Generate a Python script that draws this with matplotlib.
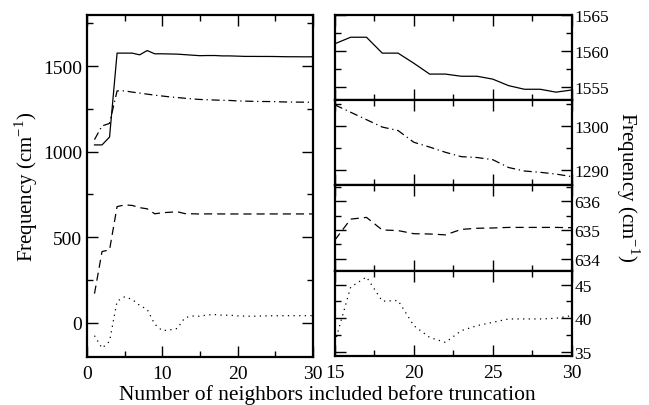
import numpy as np
import matplotlib
matplotlib.use("Agg")
import matplotlib.pyplot as plt
from matplotlib.ticker import MultipleLocator

plt.rcParams['font.family'] = ['Liberation Serif', 'DejaVu Serif']
plt.rcParams['mathtext.fontset'] = 'custom'
plt.rcParams['mathtext.rm'] = 'Liberation Serif'

# number of neighbors
n = np.arange(1, 31)

# four modes (cm^-1)
mode_1560 = [1039, 1039, 1085, 1576, 1576, 1576, 1566, 1591, 1572, 1572,
             1571, 1570, 1567, 1564, 1561.0, 1561.9, 1561.9, 1559.7, 1559.7, 1558.3,
             1556.8, 1556.8, 1556.5, 1556.5, 1556.1, 1555.2, 1554.7, 1554.7, 1554.3, 1554.6]
mode_1300 = [1070, 1150, 1165, 1355, 1355, 1348, 1342, 1336, 1330, 1325,
             1320, 1316, 1312, 1308, 1304.9, 1303.2, 1301.5, 1299.8, 1299.0, 1296.3,
             1295.2, 1294.0, 1293.0, 1292.8, 1292.3, 1290.5, 1289.7, 1289.4, 1289.0, 1288.4]
mode_635 = [169, 415, 425, 678, 688, 685, 672, 665, 636, 642,
            645, 648, 637, 636, 634.65, 635.38, 635.44, 635.0, 634.98, 634.87,
            634.86, 634.83, 635.02, 635.06, 635.07, 635.09, 635.09, 635.09, 635.09, 635.08]
mode_40 = [-77, -150, -110, 125, 150, 135, 100, 77, -10, -48,
           -43, -35, 28, 38, 36.4, 44.65, 46.15, 42.55, 42.65, 38.9,
           37.15, 36.4, 38.15, 38.9, 39.4, 39.9, 39.9, 39.9, 40.0, 40.4]

modes = [mode_1560, mode_1300, mode_635, mode_40]
styles = ['-', (0, (6.5, 3, 1, 3)), (0, (6.5, 4)), (0, (1, 3.5))]
right_ylims = [(1553.2, 1565), (1286.4, 1306), (633.58, 636.56), (34.4, 47.1)]
right_major = [5, 10, 1, 5]
right_minor = [2.5, 5, 0.5, 2.5]

lw = 0.9


def style_axis(ax, labelsize):
    ax.tick_params(which='both', direction='in', top=True, right=True,
                   width=1.0, labelsize=labelsize)
    ax.tick_params(which='major', length=8)
    ax.tick_params(which='minor', length=4)
    ax.tick_params(axis='x', pad=6)
    for s in ax.spines.values():
        s.set_linewidth(1.6)


fig = plt.figure(figsize=(6.49, 4.06), dpi=100)

# left panel: all modes
axl = fig.add_axes([0.134, 0.119, 0.348, 0.842])
for vals, ls in zip(modes, styles):
    axl.plot(n, vals, color='black', linestyle=ls, linewidth=lw)
axl.set_xlim(0, 30)
axl.set_ylim(-200, 1800)
axl.xaxis.set_major_locator(MultipleLocator(10))
axl.xaxis.set_minor_locator(MultipleLocator(5))
axl.yaxis.set_major_locator(MultipleLocator(500))
axl.yaxis.set_minor_locator(MultipleLocator(250))
style_axis(axl, 14)
axl.set_ylabel(r'Frequency (cm$^{\mathregular{-1}}$)', fontsize=15, labelpad=2)

# right panels: zoom on each mode from 15 to 30
top = 0.961
h = (0.961 - 0.121) / 4
sel = n >= 15
for i, (vals, ls) in enumerate(zip(modes, styles)):
    ax = fig.add_axes([0.516, top - (i + 1) * h, 0.365, h])
    ax.plot(n[sel], np.array(vals)[sel], color='black', linestyle=ls, linewidth=lw)
    ax.set_xlim(15, 30)
    ax.set_ylim(*right_ylims[i])
    ax.xaxis.set_major_locator(MultipleLocator(5))
    ax.xaxis.set_minor_locator(MultipleLocator(2.5))
    ax.yaxis.set_major_locator(MultipleLocator(right_major[i]))
    ax.yaxis.set_minor_locator(MultipleLocator(right_minor[i]))
    style_axis(ax, 12.5)
    ax.tick_params(axis='y', which='both', labelleft=False, labelright=True, pad=2)
    if i < 3:
        ax.tick_params(which='both', labelbottom=False)
    else:
        ax.tick_params(axis='x', labelsize=14)

fig.text(0.968, 0.54, r'Frequency (cm$^{\mathregular{-1}}$)', fontsize=15,
         rotation=270, ha='center', va='center')
fig.text(0.505, 0.028, 'Number of neighbors included before truncation',
         fontsize=15.5, ha='center', va='center')

fig.savefig('out.png', dpi=100)
